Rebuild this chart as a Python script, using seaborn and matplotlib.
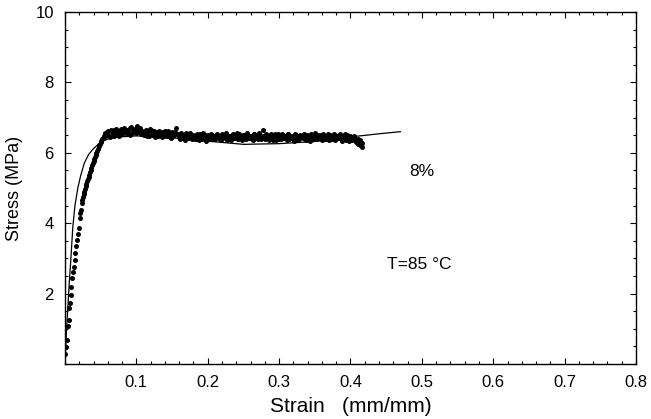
import numpy as np
import pandas as pd
import seaborn as sns
import matplotlib
matplotlib.use("Agg")
import matplotlib.pyplot as plt
from matplotlib.ticker import MultipleLocator, FixedLocator

# ---- data ----
rise_strain = [0.0003, 0.0016, 0.003, 0.004, 0.005, 0.0055, 0.0065, 0.008, 0.009, 0.0105,
               0.0115, 0.0123, 0.0135, 0.0147, 0.016, 0.017, 0.018, 0.0194, 0.0208, 0.022,
               0.0232, 0.025, 0.027, 0.029, 0.031, 0.033, 0.035, 0.037, 0.039, 0.041,
               0.043, 0.045, 0.047, 0.049, 0.051, 0.053, 0.055, 0.057,
               0.0215, 0.024, 0.026, 0.028, 0.030, 0.032, 0.034, 0.036, 0.038, 0.040,
               0.042, 0.044, 0.046, 0.048, 0.050, 0.052, 0.054, 0.056]
rise_stress = [0.28, 0.49, 0.68, 1.08, 1.25, 1.59, 1.73, 1.96, 2.20, 2.44,
               2.62, 2.76, 2.95, 3.15, 3.35, 3.52, 3.70, 3.86, 4.15, 4.38,
               4.57, 4.75, 4.90, 5.05, 5.20, 5.30, 5.45, 5.58, 5.72, 5.82,
               5.95, 6.05, 6.18, 6.25, 6.33, 6.42, 6.48, 6.52,
               4.30, 4.65, 4.82, 4.98, 5.12, 5.26, 5.38, 5.52, 5.65, 5.78,
               5.88, 6.00, 6.12, 6.22, 6.30, 6.38, 6.45, 6.55]

plateau_strain = [
    0.058, 0.0605, 0.063, 0.0655, 0.068, 0.0705, 0.073, 0.0755, 0.078, 0.0805,
    0.083, 0.0855, 0.088, 0.0905, 0.093, 0.0955, 0.098, 0.1005, 0.103, 0.1055,
    0.108, 0.1105, 0.113, 0.1155, 0.118, 0.1205, 0.123, 0.1255, 0.128, 0.1305,
    0.133, 0.1355, 0.138, 0.1405, 0.143, 0.1455, 0.148, 0.1505, 0.153, 0.1555,
    0.158, 0.1605, 0.163, 0.1655, 0.168, 0.1705, 0.173, 0.1755, 0.178, 0.1805,
    0.183, 0.1855, 0.188, 0.1905, 0.193, 0.1955, 0.198, 0.2005, 0.203, 0.2055,
    0.208, 0.2105, 0.213, 0.2155, 0.218, 0.2205, 0.223, 0.2255, 0.228, 0.2305,
    0.233, 0.2355, 0.238, 0.2405, 0.243, 0.2455, 0.248, 0.2505, 0.253, 0.2555,
    0.258, 0.2605, 0.263, 0.2655, 0.268, 0.2705, 0.273, 0.2755, 0.278, 0.2805,
    0.283, 0.2855, 0.288, 0.2905, 0.293, 0.2955, 0.298, 0.3005, 0.303, 0.3055,
    0.308, 0.3105, 0.313, 0.3155, 0.318, 0.3205, 0.323, 0.3255, 0.328, 0.3305,
    0.333, 0.3355, 0.338, 0.3405, 0.343, 0.3455, 0.348, 0.3505, 0.353, 0.3555,
    0.358, 0.3605, 0.363, 0.3655, 0.368, 0.3705, 0.373, 0.3755, 0.378, 0.3805,
    0.383, 0.3855, 0.388, 0.3905, 0.393, 0.3955, 0.398, 0.4005, 0.403, 0.4055,
    0.408, 0.4105, 0.413, 0.4155, 0.410, 0.414, 0.416]
plateau_stress = [
    6.50, 6.62, 6.45, 6.58, 6.66, 6.52, 6.63, 6.48, 6.68, 6.57,
    6.70, 6.55, 6.66, 6.50, 6.72, 6.60, 6.68, 6.76, 6.58, 6.69,
    6.62, 6.50, 6.66, 6.55, 6.48, 6.64, 6.57, 6.52, 6.60, 6.47,
    6.58, 6.45, 6.55, 6.62, 6.48, 6.56, 6.43, 6.60, 6.50, 6.70,
    6.52, 6.40, 6.55, 6.45, 6.36, 6.50, 6.42, 6.57, 6.38, 6.48,
    6.40, 6.52, 6.37, 6.47, 6.55, 6.42, 6.34, 6.50, 6.44, 6.39,
    6.48, 6.38, 6.53, 6.42, 6.36, 6.49, 6.45, 6.55, 6.40, 6.47,
    6.37, 6.52, 6.43, 6.57, 6.39, 6.48, 6.35, 6.50, 6.44, 6.56,
    6.41, 6.49, 6.36, 6.53, 6.45, 6.38, 6.51, 6.43, 6.66, 6.40,
    6.47, 6.35, 6.52, 6.42, 6.49, 6.37, 6.54, 6.44, 6.39, 6.50,
    6.43, 6.36, 6.52, 6.41, 6.47, 6.34, 6.50, 6.45, 6.38, 6.48,
    6.42, 6.53, 6.37, 6.46, 6.33, 6.49, 6.41, 6.56, 6.38, 6.44,
    6.50, 6.36, 6.45, 6.40, 6.53, 6.35, 6.47, 6.42, 6.37, 6.49,
    6.41, 6.52, 6.34, 6.46, 6.39, 6.50, 6.33, 6.44, 6.38, 6.47,
    6.30, 6.40, 6.22, 6.17, 6.25, 6.35, 6.28]

mid_strain = [
    0.0593, 0.0618, 0.0643, 0.0668, 0.0693, 0.0718, 0.0743, 0.0768, 0.0793, 0.0818,
    0.0843, 0.0868, 0.0893, 0.0918, 0.0943, 0.0968, 0.0993, 0.1018, 0.1043, 0.1068,
    0.1093, 0.1118, 0.1143, 0.1168, 0.1193, 0.1218, 0.1243, 0.1268, 0.1293, 0.1318,
    0.1343, 0.1368, 0.1393, 0.1418, 0.1443, 0.1468, 0.1493, 0.1518, 0.1543, 0.1568,
    0.1593, 0.1618, 0.1643, 0.1668, 0.1693, 0.1718, 0.1743, 0.1768, 0.1793, 0.1818,
    0.1843, 0.1868, 0.1893, 0.1918, 0.1943, 0.1968, 0.1993, 0.2018, 0.2043, 0.2068,
    0.2093, 0.2118, 0.2143, 0.2168, 0.2193, 0.2218, 0.2243, 0.2268, 0.2293, 0.2318,
    0.2343, 0.2368, 0.2393, 0.2418, 0.2443, 0.2468, 0.2493, 0.2518, 0.2543, 0.2568,
    0.2593, 0.2618, 0.2643, 0.2668, 0.2693, 0.2718, 0.2743, 0.2768, 0.2793, 0.2818,
    0.2843, 0.2868, 0.2893, 0.2918, 0.2943, 0.2968, 0.2993, 0.3018, 0.3043, 0.3068,
    0.3093, 0.3118, 0.3143, 0.3168, 0.3193, 0.3218, 0.3243, 0.3268, 0.3293, 0.3318,
    0.3343, 0.3368, 0.3393, 0.3418, 0.3443, 0.3468, 0.3493, 0.3518, 0.3543, 0.3568,
    0.3593, 0.3618, 0.3643, 0.3668, 0.3693, 0.3718, 0.3743, 0.3768, 0.3793, 0.3818,
    0.3843, 0.3868, 0.3893, 0.3918, 0.3943, 0.3968, 0.3993, 0.4018, 0.4043, 0.4068,
    0.4093, 0.4118]
mid_stress = [
    6.58, 6.47, 6.64, 6.55, 6.49, 6.67, 6.56, 6.61, 6.53, 6.65,
    6.58, 6.66, 6.53, 6.71, 6.57, 6.64, 6.55, 6.70, 6.63, 6.54,
    6.55, 6.63, 6.49, 6.60, 6.68, 6.51, 6.62, 6.45, 6.56, 6.61,
    6.50, 6.60, 6.47, 6.52, 6.63, 6.44, 6.57, 6.49, 6.58, 6.53,
    6.45, 6.54, 6.43, 6.50, 6.55, 6.41, 6.53, 6.46, 6.51, 6.40,
    6.49, 6.43, 6.53, 6.38, 6.46, 6.51, 6.45, 6.40, 6.53, 6.47,
    6.42, 6.51, 6.45, 6.38, 6.52, 6.41, 6.50, 6.37, 6.48, 6.43,
    6.50, 6.41, 6.47, 6.38, 6.53, 6.43, 6.51, 6.46, 6.39, 6.48,
    6.47, 6.40, 6.52, 6.42, 6.49, 6.55, 6.40, 6.48, 6.44, 6.53,
    6.41, 6.50, 6.45, 6.37, 6.53, 6.43, 6.40, 6.49, 6.54, 6.42,
    6.48, 6.52, 6.40, 6.46, 6.38, 6.53, 6.42, 6.37, 6.51, 6.44,
    6.47, 6.39, 6.50, 6.43, 6.52, 6.40, 6.47, 6.38, 6.50, 6.45,
    6.42, 6.52, 6.39, 6.48, 6.43, 6.50, 6.40, 6.54, 6.45, 6.41,
    6.48, 6.38, 6.45, 6.52, 6.35, 6.43, 6.49, 6.37, 6.46, 6.40,
    6.35, 6.27]

fit_strain = [0.0, 0.002, 0.004, 0.006, 0.008, 0.011, 0.014, 0.018, 0.022, 0.027,
              0.033, 0.040, 0.050, 0.060, 0.075, 0.100, 0.130, 0.160, 0.200, 0.250,
              0.300, 0.350, 0.400, 0.440, 0.470]
fit_stress = [0.0, 0.9, 1.6, 2.3, 2.9, 3.9, 4.5, 5.0, 5.35, 5.7,
              5.95, 6.12, 6.30, 6.39, 6.45, 6.48, 6.46, 6.41, 6.33, 6.24,
              6.26, 6.32, 6.45, 6.54, 6.60]

x_ticks = [0.1, 0.2, 0.3, 0.4, 0.5, 0.6, 0.7, 0.8]
y_ticks = [2, 4, 6, 8, 10]

# ---- figure ----
sns.set_theme(style="ticks")
plt.rcParams['font.family'] = ['Liberation Sans', 'DejaVu Sans']

fig = plt.figure(figsize=(6.51, 4.19), dpi=100)
ax = fig.add_axes([0.0998, 0.1313, 0.8772, 0.8401])

pts = pd.DataFrame({"strain": rise_strain + plateau_strain + mid_strain,
                    "stress": rise_stress + plateau_stress + mid_stress})
fit = pd.DataFrame({"strain": fit_strain, "stress": fit_stress})

sns.scatterplot(data=pts, x="strain", y="stress", ax=ax, color="black",
                s=13, linewidth=0, zorder=3)
sns.lineplot(data=fit, x="strain", y="stress", ax=ax, color="black",
             linewidth=0.9, zorder=2, sort=True)

ax.set_xlim(0, 0.8)
ax.set_ylim(0, 10)
ax.xaxis.set_major_locator(FixedLocator(x_ticks))
ax.yaxis.set_major_locator(FixedLocator(y_ticks))
ax.xaxis.set_minor_locator(MultipleLocator(0.02))
ax.yaxis.set_minor_locator(MultipleLocator(0.5))
ax.set_xticklabels([f"{v:.1f}" for v in x_ticks])
ax.set_yticklabels([str(v) for v in y_ticks])
ax.tick_params(which="both", direction="in", top=True, right=True,
               colors="black", labelsize=12, width=0.8)
ax.tick_params(which="major", length=4, pad=8)
ax.tick_params(which="minor", length=2.5)
for sp in ax.spines.values():
    sp.set_color("black")
    sp.set_linewidth(1.0)

ax.set_xlabel("Strain   (mm/mm)", fontsize=15, color="black", labelpad=5)
ax.set_ylabel("Stress (MPa)", fontsize=13, color="black", labelpad=9)

ax.text(0.482, 5.48, "8%", fontsize=12.5, color="black", ha="left", va="center")
ax.text(0.451, 2.84, "T=85 \u00b0C", fontsize=12.5, color="black", ha="left", va="center")

fig.savefig("out.png", dpi=100)
